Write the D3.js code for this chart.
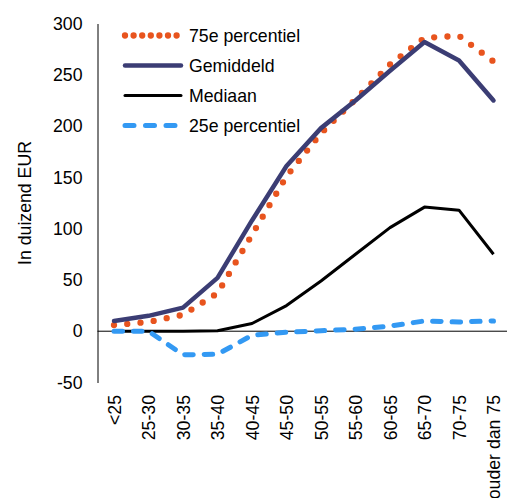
<!DOCTYPE html>
<html>
<head>
<meta charset="utf-8">
<script src="https://cdn.jsdelivr.net/npm/d3@7"></script>
<style>
  html, body { margin: 0; padding: 0; background: #fff; }
  svg { display: block; font-family: "Liberation Sans", Arial, sans-serif; }
</style>
</head>
<body>
<svg id="chart" width="507" height="498"></svg>
<script>
const categories = ["<25","25-30","30-35","35-40","40-45","45-50","50-55","55-60","60-65","65-70","70-75","ouder dan 75"];
const p75 = [6, 9, 16, 37, 94, 151, 193, 226, 260, 286, 288, 263];
const gemiddeld = [10, 15, 23, 52, 108, 161, 198, 225, 254, 282, 264, 225];
const mediaan = [0, 0, 0, 0.5, 7.5, 25, 49, 75, 101, 121, 118, 75];
const p25 = [0, 0, -23, -22.5, -4, -1, 0.5, 2, 5, 10, 9, 10];
const yTicks = [-50, 0, 50, 100, 150, 200, 250, 300];
const seriesNames = ["75e percentiel", "Gemiddeld", "Mediaan", "25e percentiel"];

const svg = d3.select("#chart");
const fontSize = 17.7;

const x = d3.scalePoint().domain(categories).range([114, 493.5]);
const y = d3.scaleLinear().domain([-50, 300]).range([382.5, 23.5]);

// Y axis
const yAxis = svg.append("g")
  .attr("transform", "translate(97.5,0)")
  .call(d3.axisLeft(y).tickValues(yTicks).tickSize(0).tickPadding(15).tickFormat(d => String(d)));
yAxis.select(".domain").attr("stroke", "#000").attr("stroke-width", 1);
yAxis.selectAll("text").attr("font-size", fontSize).attr("fill", "#000")
  .attr("font-family", "'Liberation Sans', Arial, sans-serif");

// zero line
svg.append("line")
  .attr("x1", 97.5).attr("x2", 507)
  .attr("y1", y(0)).attr("y2", y(0))
  .attr("stroke", "#000").attr("stroke-width", 1);

// X tick labels (low position)
const xAxis = svg.append("g")
  .attr("transform", `translate(0,${y(-50) + 12.5})`)
  .call(d3.axisBottom(x).tickSize(0));
xAxis.select(".domain").remove();
xAxis.selectAll("text")
  .attr("transform", "rotate(-90)")
  .attr("text-anchor", "end")
  .attr("x", 0).attr("y", 0).attr("dy", "0.35em")
  .attr("font-size", fontSize).attr("fill", "#000")
  .attr("font-family", "'Liberation Sans', Arial, sans-serif");

// Y label
svg.append("text")
  .attr("transform", `translate(24.5,${(y(-50) + y(300)) / 2}) rotate(-90)`)
  .attr("text-anchor", "middle")
  .attr("dy", "0.35em")
  .attr("font-size", fontSize)
  .text("In duizend EUR");

const line = d3.line().x((d, i) => x(categories[i])).y(d => y(d));

const styles = [
  { data: p75, color: "#E8541E", width: 6.3, dash: "0 13.3", legendDash: "0 8.6", cap: "round" },
  { data: gemiddeld, color: "#3B3D74", width: 4.5, dash: null, legendDash: null, cap: "round" },
  { data: mediaan, color: "#000000", width: 3, dash: null, legendDash: null, cap: "butt" },
  { data: p25, color: "#3399F3", width: 5, dash: "8.5 11", legendDash: "9 11.5", cap: "round" }
];

styles.forEach(s => {
  svg.append("path")
    .datum(s.data)
    .attr("d", line)
    .attr("fill", "none")
    .attr("stroke", s.color)
    .attr("stroke-width", s.width)
    .attr("stroke-linecap", s.cap)
    .attr("stroke-linejoin", "round")
    .attr("stroke-dasharray", s.dash);
});

// Legend
const legend = svg.append("g");
seriesNames.forEach((name, i) => {
  const s = styles[i];
  const cy = 35.5 + i * 30;
  legend.append("line")
    .attr("x1", 125).attr("x2", 181)
    .attr("y1", cy).attr("y2", cy)
    .attr("stroke", s.color)
    .attr("stroke-width", s.width)
    .attr("stroke-linecap", "round")
    .attr("stroke-dasharray", s.legendDash);
  legend.append("text")
    .attr("x", 189).attr("y", cy)
    .attr("dy", "0.35em")
    .attr("font-size", fontSize)
    .text(name);
});
</script>
</body>
</html>
